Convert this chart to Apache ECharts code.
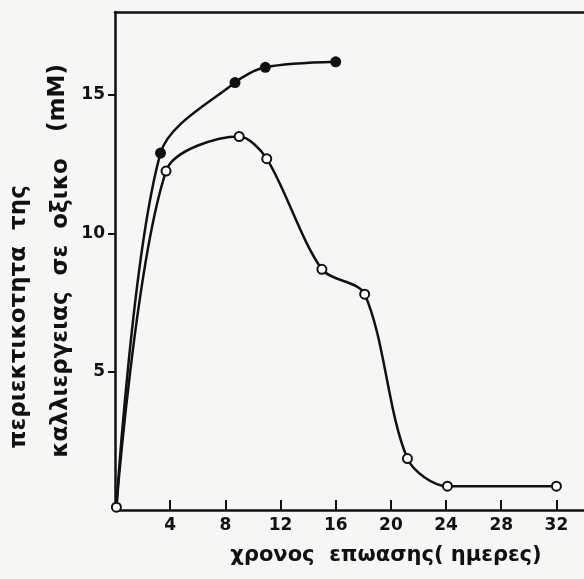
<!DOCTYPE html>
<html lang="el">
<head>
    <meta charset="UTF-8">
    <title>Οξικό οξύ</title>
    <script src="https://cdn.jsdelivr.net/npm/echarts@6/dist/echarts.min.js"></script>
    <style>
        html, body { margin: 0; padding: 0; background: #f6f6f4; }
        #main { width: 584px; height: 579px; }
    </style>
</head>
<body>
<div id="main"></div>
<script>
    // ημερες / mM
    var openDays = [0.1, 3.7, 9.0, 11.0, 15.0, 18.1, 21.2, 24.1, 32.0];
    var openVals = [0.1, 12.25, 13.5, 12.7, 8.7, 7.8, 1.86, 0.86, 0.86];
    var fullDays = [0.1, 3.3, 8.7, 10.9, 16.0];
    var fullVals = [0.1, 12.9, 15.45, 16.0, 16.2];
    var xTicks = [4, 8, 12, 16, 20, 24, 28, 32];
    var yTicks = [5, 10, 15];

    var font = 'DejaVu Sans';

    function pairs(xs, ys) {
        return xs.map(function (x, i) { return [x, ys[i]]; });
    }

    var fullData = pairs(fullDays, fullVals).map(function (p, i) {
        // το πρωτο σημειο ειναι κοινο, το δειχνει η αλλη καμπυλη
        return i === 0 ? { value: p, symbolSize: 0 } : p;
    });

    var myChart = echarts.init(document.getElementById('main'));
    var option = {
        backgroundColor: '#f6f6f4',
        animation: false,
        grid: { left: 115, right: 0, top: 12, bottom: 69 },
        xAxis: [{
            type: 'value',
            min: 0,
            max: 34,
            splitLine: { show: false },
            axisLine: { lineStyle: { color: '#111', width: 2.5 } },
            axisTick: { inside: true, length: 10, customValues: xTicks, lineStyle: { color: '#111', width: 2 } },
            axisLabel: { customValues: xTicks, color: '#111', fontFamily: font, fontWeight: 'bold', fontSize: 17, margin: 7 }
        }, {
            type: 'value',
            position: 'top',
            min: 0,
            max: 34,
            splitLine: { show: false },
            axisLine: { show: true, lineStyle: { color: '#111', width: 2.5 } },
            axisTick: { show: false },
            axisLabel: { show: false }
        }],
        yAxis: {
            type: 'value',
            min: 0,
            max: 18,
            splitLine: { show: false },
            axisLine: { lineStyle: { color: '#111', width: 2.5 } },
            axisTick: { length: 7, customValues: yTicks, lineStyle: { color: '#111', width: 2 } },
            axisLabel: { customValues: yTicks, color: '#111', fontFamily: font, fontWeight: 'bold', fontSize: 17, margin: 10 }
        },
        graphic: [
            {
                type: 'text', x: 19, y: 317, rotation: Math.PI / 2,
                style: { text: 'περιεκτικοτητα  της', fill: '#111', font: 'bold 23px "DejaVu Sans"', align: 'center', verticalAlign: 'middle' }
            },
            {
                type: 'text', x: 61, y: 308, rotation: Math.PI / 2,
                style: { text: 'καλλιεργειας  σε  οξικο', fill: '#111', font: 'bold 23px "DejaVu Sans"', align: 'center', verticalAlign: 'middle' }
            },
            {
                type: 'text', x: 58, y: 98, rotation: Math.PI / 2,
                style: { text: '(mM)', fill: '#111', font: 'bold 23px "DejaVu Sans"', align: 'center', verticalAlign: 'middle' }
            },
            {
                type: 'text', x: 386, y: 556,
                style: { text: 'χρονος  επωασης( ημερες)', fill: '#111', font: 'bold 21px "DejaVu Sans"', align: 'center', verticalAlign: 'middle' }
            }
        ],
        series: [
            {
                type: 'line',
                data: pairs(openDays, openVals),
                smooth: 0.3,
                symbol: 'circle',
                symbolSize: 9,
                itemStyle: { color: '#fff', borderColor: '#111', borderWidth: 2 },
                lineStyle: { color: '#111', width: 2.5 },
                z: 3
            },
            {
                type: 'line',
                data: fullData,
                smooth: 0.3,
                symbol: 'circle',
                symbolSize: 11,
                itemStyle: { color: '#111' },
                lineStyle: { color: '#111', width: 2.5 },
                z: 2
            }
        ]
    };
    myChart.setOption(option);
</script>
</body>
</html>
